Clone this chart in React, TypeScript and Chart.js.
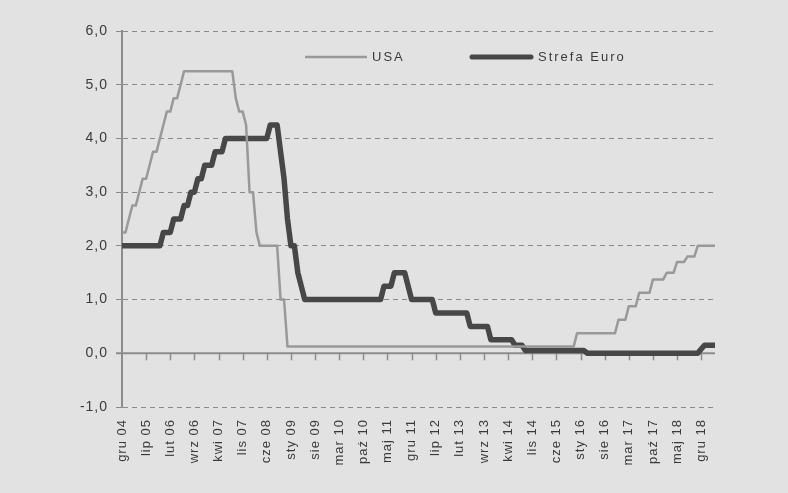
import React, { useEffect, useRef } from 'react';
import { Chart, registerables } from 'chart.js';

Chart.register(...registerables);

// Polish month abbreviations used for the monthly categories (Dec 2004 .. Apr 2019)
const MONTHS = ['sty', 'lut', 'mar', 'kwi', 'maj', 'cze', 'lip', 'sie', 'wrz', 'paź', 'lis', 'gru'];
const FIRST_YEAR = 2004;
const FIRST_MONTH = 11; // gru

// Tick labels shown on the x axis (every 7th month)
const TICK_LABELS = [
  'gru 04', 'lip 05', 'lut 06', 'wrz 06', 'kwi 07', 'lis 07', 'cze 08', 'sty 09', 'sie 09',
  'mar 10', 'paź 10', 'maj 11', 'gru 11', 'lip 12', 'lut 13', 'wrz 13', 'kwi 14', 'lis 14',
  'cze 15', 'sty 16', 'sie 16', 'mar 17', 'paź 17', 'maj 18', 'gru 18',
];

// USA policy rate (%), monthly
const USA = [
  2.25, 2.25, 2.5, 2.75, 2.75, 3.0, 3.25, 3.25, 3.5, 3.75,
  3.75, 4.0, 4.25, 4.5, 4.5, 4.75, 4.75, 5.0, 5.25, 5.25,
  5.25, 5.25, 5.25, 5.25, 5.25, 5.25, 5.25, 5.25, 5.25, 5.25,
  5.25, 5.25, 5.25, 4.75, 4.5, 4.5, 4.25, 3.0, 3.0, 2.25,
  2.0, 2.0, 2.0, 2.0, 2.0, 2.0, 1.0, 1.0, 0.125, 0.125,
  0.125, 0.125, 0.125, 0.125, 0.125, 0.125, 0.125, 0.125, 0.125, 0.125,
  0.125, 0.125, 0.125, 0.125, 0.125, 0.125, 0.125, 0.125, 0.125, 0.125,
  0.125, 0.125, 0.125, 0.125, 0.125, 0.125, 0.125, 0.125, 0.125, 0.125,
  0.125, 0.125, 0.125, 0.125, 0.125, 0.125, 0.125, 0.125, 0.125, 0.125,
  0.125, 0.125, 0.125, 0.125, 0.125, 0.125, 0.125, 0.125, 0.125, 0.125,
  0.125, 0.125, 0.125, 0.125, 0.125, 0.125, 0.125, 0.125, 0.125, 0.125,
  0.125, 0.125, 0.125, 0.125, 0.125, 0.125, 0.125, 0.125, 0.125, 0.125,
  0.125, 0.125, 0.125, 0.125, 0.125, 0.125, 0.125, 0.125, 0.125, 0.125,
  0.125, 0.125, 0.375, 0.375, 0.375, 0.375, 0.375, 0.375, 0.375, 0.375,
  0.375, 0.375, 0.375, 0.375, 0.625, 0.625, 0.625, 0.875, 0.875, 0.875,
  1.125, 1.125, 1.125, 1.125, 1.375, 1.375, 1.375, 1.375, 1.5, 1.5,
  1.5, 1.7, 1.7, 1.7, 1.8, 1.8, 1.8, 2.0, 2.0, 2.0,
  2.0, 2.0, 2.0,
];

// Euro area policy rate (%), monthly
const EURO = [
  2.0, 2.0, 2.0, 2.0, 2.0, 2.0, 2.0, 2.0, 2.0, 2.0,
  2.0, 2.0, 2.25, 2.25, 2.25, 2.5, 2.5, 2.5, 2.75, 2.75,
  3.0, 3.0, 3.25, 3.25, 3.5, 3.5, 3.5, 3.75, 3.75, 3.75,
  4.0, 4.0, 4.0, 4.0, 4.0, 4.0, 4.0, 4.0, 4.0, 4.0,
  4.0, 4.0, 4.0, 4.25, 4.25, 4.25, 3.75, 3.25, 2.5, 2.0,
  2.0, 1.5, 1.25, 1.0, 1.0, 1.0, 1.0, 1.0, 1.0, 1.0,
  1.0, 1.0, 1.0, 1.0, 1.0, 1.0, 1.0, 1.0, 1.0, 1.0,
  1.0, 1.0, 1.0, 1.0, 1.0, 1.0, 1.25, 1.25, 1.25, 1.5,
  1.5, 1.5, 1.5, 1.25, 1.0, 1.0, 1.0, 1.0, 1.0, 1.0,
  1.0, 0.75, 0.75, 0.75, 0.75, 0.75, 0.75, 0.75, 0.75, 0.75,
  0.75, 0.5, 0.5, 0.5, 0.5, 0.5, 0.5, 0.25, 0.25, 0.25,
  0.25, 0.25, 0.25, 0.25, 0.15, 0.15, 0.15, 0.05, 0.05, 0.05,
  0.05, 0.05, 0.05, 0.05, 0.05, 0.05, 0.05, 0.05, 0.05, 0.05,
  0.05, 0.05, 0.05, 0.05, 0.05, 0, 0, 0, 0, 0,
  0, 0, 0, 0, 0, 0, 0, 0, 0, 0,
  0, 0, 0, 0, 0, 0, 0, 0, 0, 0,
  0, 0, 0, 0, 0, 0, 0, 0, 0.08, 0.15,
  0.15, 0.15, 0.15,
];

const SERIES_NAMES = ['USA', 'Strefa Euro'];

const CATEGORIES: string[] = USA.map((_, i) => {
  const m = (FIRST_MONTH + i) % 12;
  const y = FIRST_YEAR + Math.floor((FIRST_MONTH + i) / 12);
  return MONTHS[m] + ' ' + String(y % 100).padStart(2, '0');
});
const TICK_SET = new Set(TICK_LABELS);

const BG = '#e2e2e2';
const TEXT = '#3a3a3a';
const GRID = '#8a8a8a';
const AXIS = '#8c8c8c';
const USA_COLOR = '#999999';
const EURO_COLOR = '#474747';
const FONT = "'Liberation Sans', Arial, sans-serif";

const spacingPlugin = {
  id: 'spacing',
  beforeUpdate(chart: any) {
    chart.ctx.letterSpacing = '1px';
  },
  beforeDraw(chart: any) {
    chart.ctx.letterSpacing = '1px';
  },
};

const zeroAxisPlugin = {
  id: 'zeroAxis',
  beforeDatasetsDraw(chart: any) {
    const { ctx, chartArea, scales } = chart;
    const y0 = scales.y.getPixelForValue(0);
    ctx.save();
    ctx.strokeStyle = AXIS;
    ctx.lineWidth = 2;
    ctx.setLineDash([]);
    ctx.beginPath();
    ctx.moveTo(chartArea.left - 6, y0);
    ctx.lineTo(chartArea.right, y0);
    ctx.stroke();
    ctx.lineWidth = 1.5;
    CATEGORIES.forEach((c, i) => {
      if (i === 0 || !TICK_SET.has(c)) return;
      const x = Math.round(scales.x.getPixelForValue(i)) + 0.5;
      ctx.beginPath();
      ctx.moveTo(x, y0);
      ctx.lineTo(x, y0 + 7);
      ctx.stroke();
    });
    ctx.restore();
  },
};

const legendPlugin = {
  id: 'customLegend',
  afterDraw(chart: any) {
    const { ctx } = chart;
    ctx.save();
    ctx.letterSpacing = '2px';
    ctx.font = `13px ${FONT}`;
    ctx.fillStyle = TEXT;
    ctx.textBaseline = 'middle';
    ctx.textAlign = 'left';
    ctx.lineCap = 'butt';
    // USA
    ctx.strokeStyle = USA_COLOR;
    ctx.lineWidth = 2.5;
    ctx.beginPath();
    ctx.moveTo(305, 57);
    ctx.lineTo(367, 57);
    ctx.stroke();
    ctx.fillText(SERIES_NAMES[0], 372, 57);
    // Euro
    ctx.strokeStyle = EURO_COLOR;
    ctx.lineWidth = 5;
    ctx.lineCap = 'round';
    ctx.beginPath();
    ctx.moveTo(472, 57);
    ctx.lineTo(531, 57);
    ctx.stroke();
    ctx.fillText(SERIES_NAMES[1], 538, 57);
    ctx.restore();
  },
};

export default function App() {
  const ref = useRef<HTMLCanvasElement>(null);
  useEffect(() => {
    document.body.style.margin = '0';
    const chart = new Chart(ref.current as HTMLCanvasElement, {
      type: 'line',
      data: {
        labels: CATEGORIES,
        datasets: [
          {
            label: SERIES_NAMES[0],
            data: USA,
            borderColor: USA_COLOR,
            borderWidth: 2.5,
            pointRadius: 0,
            tension: 0,
            fill: false,
            borderJoinStyle: 'round',
          },
          {
            label: SERIES_NAMES[1],
            data: EURO,
            borderColor: EURO_COLOR,
            borderWidth: 5.5,
            pointRadius: 0,
            tension: 0,
            fill: false,
            borderJoinStyle: 'round',
          },
        ],
      },
      options: {
        animation: false,
        responsive: true,
        maintainAspectRatio: false,
        layout: { padding: { top: 31, right: 73, bottom: 0, left: 0 } },
        plugins: { legend: { display: false }, tooltip: { enabled: false } },
        scales: {
          x: {
            type: 'category',
            offset: false,
            grid: { display: false },
            border: { display: false },
            ticks: {
              autoSkip: false,
              maxRotation: 90,
              minRotation: 90,
              padding: 4,
              color: TEXT,
              font: { family: FONT, size: 13 },
              callback: (_v: any, i: number) => (TICK_SET.has(CATEGORIES[i]) ? CATEGORIES[i] : ''),
            },
            afterFit: (s: any) => {
              s.height = 86;
            },
          },
          y: {
            min: -1,
            max: 6,
            ticks: {
              stepSize: 1,
              padding: 8,
              color: TEXT,
              font: { family: FONT, size: 14 },
              callback: (v: any) => Number(v).toFixed(1).replace('.', ','),
            },
            grid: {
              color: (c: any) => (c.tick && c.tick.value === 0 ? 'rgba(0,0,0,0)' : GRID),
              lineWidth: 1,
              tickLength: 6,
            },
            border: { display: true, color: AXIS, width: 2, dash: [5, 4] },
            afterFit: (s: any) => {
              s.width = 122;
            },
          },
        },
      },
      plugins: [spacingPlugin, zeroAxisPlugin, legendPlugin],
    } as any);
    return () => chart.destroy();
  }, []);
  return (
    <div style={{ position: 'absolute', left: 0, top: 0, width: 788, height: 493, background: BG }}>
      <canvas ref={ref} />
    </div>
  );
}
